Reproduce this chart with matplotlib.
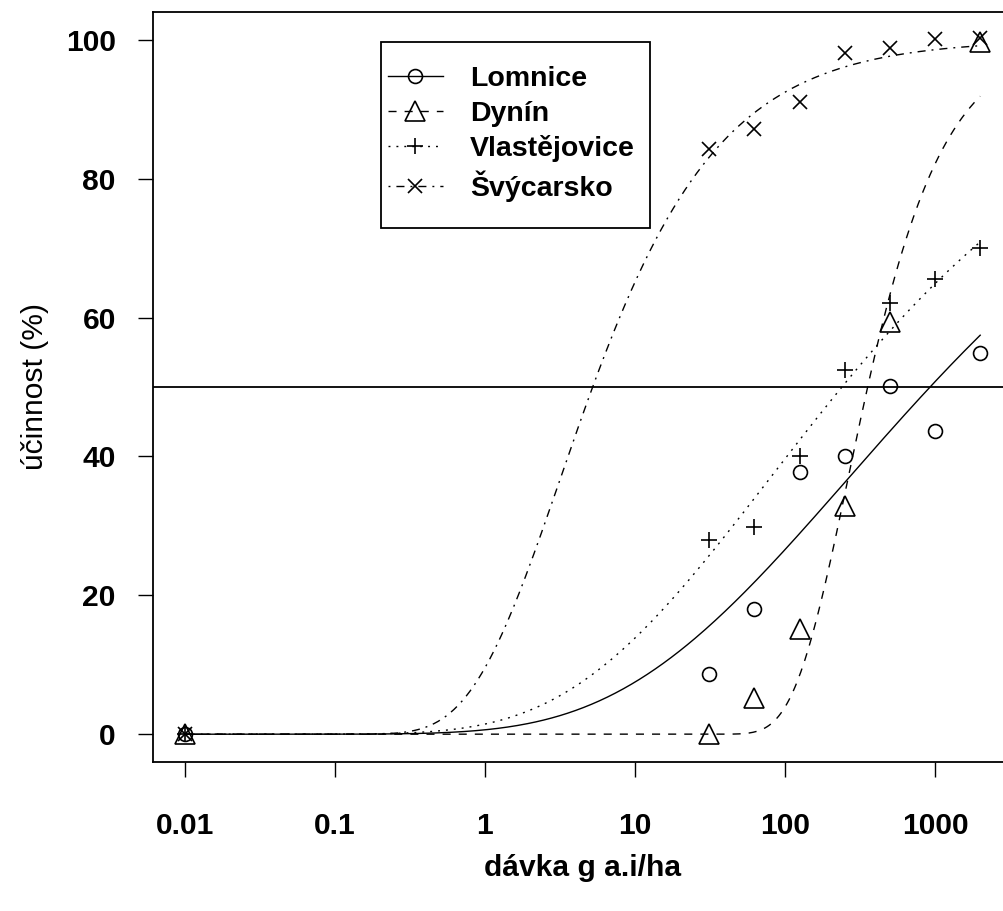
import numpy as np
import matplotlib.pyplot as plt
from matplotlib.lines import Line2D
from matplotlib.patches import Rectangle

plt.rcParams['font.family'] = ['Liberation Sans', 'DejaVu Sans']

# doses (g a.i./ha), 0.01 stands for the untreated control
doses = [0.01, 31.25, 62.5, 125, 250, 500, 1000, 2000]
doses_dynin = [0.01, 31.25, 62.5, 125, 250, 500, 2000]

lomnice = [0, 8.7, 18.1, 37.8, 40.0, 50.1, 43.6, 54.9]
dynin = [0, 0, 5.2, 15.2, 32.9, 59.4, 99.7]
vlastejovice = [0, 27.9, 29.8, 40.0, 52.5, 62.1, 65.5, 70.0]
svycarsko = [0, 84.3, 87.1, 91.1, 98.1, 98.8, 100.1, 100.2]

names = ['Lomnice', 'Dynín', 'Vlastějovice', 'Švýcarsko']

# Weibull W1.2 fits (upper limit 100): slope b and inflection dose e
fit_b = [-0.291, -1.216, -0.330, -0.738]
fit_e = [263.0, 263.0, 78.9, 3.18]


def w12(x, b, e):
    return 100 * np.exp(-np.exp(b * (np.log(x) - np.log(e))))


styles = [
    dict(linestyle='-'),
    dict(dashes=(5.8, 5.8)),
    dict(dashes=(1.4, 4.3)),
    dict(dashes=(1.4, 4.3, 5.8, 4.3)),
]
marks = [
    dict(marker='o', markersize=10),
    dict(marker='^', markersize=15),
    dict(marker='+', markersize=12),
    dict(marker='x', markersize=10),
]

fig = plt.figure(figsize=(10.04, 9.11), dpi=100)
ax = fig.add_axes([153 / 1004, 149 / 911, 859 / 1004, 750 / 911])
ax.set_xscale('log')

xs = np.logspace(np.log10(0.01), np.log10(2000), 400)
pts = [(doses, lomnice), (doses_dynin, dynin), (doses, vlastejovice), (doses, svycarsko)]

for i in range(4):
    ax.plot(xs, w12(xs, fit_b[i], fit_e[i]), color='black', lw=1.0, **styles[i])
    ax.plot(pts[i][0], pts[i][1], linestyle='none', color='black',
            mfc='none', mew=1.2, **marks[i])

ax.axhline(50, color='black', lw=1.3)

ax.set_xlim(10 ** -2.212, 10 ** 3.513)
ax.set_ylim(-4, 104)

xt = [0.01, 0.1, 1, 10, 100, 1000]
ax.set_xticks(xt)
ax.set_xticklabels(['0.01', '0.1', '1', '10', '100', '1000'], fontweight='bold')
ax.minorticks_off()
ax.set_yticks([0, 20, 40, 60, 80, 100])
ax.set_yticklabels(['0', '20', '40', '60', '80', '100'], fontweight='bold')
ax.tick_params(axis='both', length=10.8, width=1.0, labelsize=21.6)
ax.tick_params(axis='x', pad=25)
ax.tick_params(axis='y', pad=16)

for sp in ax.spines.values():
    sp.set_linewidth(1.3)

ax.set_xlabel('dávka g a.i/ha', fontsize=21.6, fontweight='bold', labelpad=10)
ax.set_ylabel('účinnost (%)', fontsize=21.6, labelpad=12)

# legend box, white so the curves do not show through
box = Rectangle((381 / 1004, (911 - 228) / 911), 269 / 1004, 186 / 911,
                transform=fig.transFigure, facecolor='white', edgecolor='black',
                lw=1.3, zorder=5, clip_on=False)
ax.add_patch(box)

handles = [Line2D([], [], color='black', lw=1.0, mfc='none', mew=1.2,
                  **styles[i], **marks[i]) for i in range(4)]
leg = ax.legend(handles, names, loc='upper left',
                bbox_to_anchor=(388 / 1004, (911 - 66) / 911),
                bbox_transform=fig.transFigure, frameon=False, numpoints=1,
                prop=dict(size=20.5, weight='bold'), handlelength=1.93,
                handletextpad=0.95, labelspacing=0.30, borderpad=0,
                borderaxespad=0, handleheight=0.7)
leg.set_zorder(6)

fig.savefig('out.png', dpi=100)
